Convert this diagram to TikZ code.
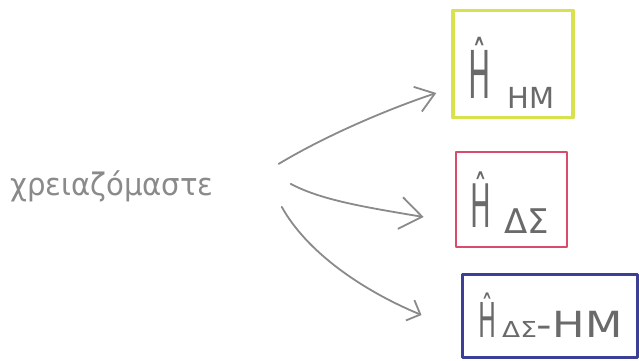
\documentclass[tikz,border=0pt]{standalone}
\usepackage{fontspec}
\setmainfont{DejaVu Sans}
\usetikzlibrary{arrows.meta,calc}

\definecolor{pencil}{HTML}{8A8A8A}
\definecolor{pencildark}{HTML}{6A6A6A}
\definecolor{hlyellow}{HTML}{D8E24E}
\definecolor{hlpink}{HTML}{D94A6C}
\definecolor{hlblue}{HTML}{3C3F96}

\tikzset{
  frame/.style={draw, inner sep=0pt, line join=round},
  word/.style={text=pencil, inner sep=0pt, anchor=base west},
  hlab/.style={text=pencildark, inner sep=0pt, anchor=base west},
  sketch/.style={draw=pencil, line width=1.8pt, line cap=round, line join=round},
}

\begin{document}
\begin{tikzpicture}[x=1pt,y=-1pt]
  \useasboundingbox (0,0) rectangle (639,360);
  \fill[white] (0,0) rectangle (639,360);

  % the word on the left
  \node[word] (w) at (10,195) {\scalebox{0.94}[1]{\fontsize{31}{31}\selectfont χρειαζόμαστε}};

  % coloured frames
  \node[frame, draw=hlyellow, line width=3.4pt, minimum width=120pt, minimum height=107pt] (hm) at (513,64) {};
  \node[frame, draw=hlpink, line width=2.6pt, minimum width=111pt, minimum height=95pt] (ds) at (511.5,199.5) {};
  \node[frame, draw=hlblue, line width=3pt, minimum width=175pt, minimum height=83pt] (dshm) at (549.5,315.5) {};

  % labels inside the frames
  \node[hlab] (lhm) at (468,98) {\fontsize{66}{66}\selectfont\scalebox{0.45}[1]{Ĥ}};
  \node[hlab] (shm) at (507,108) {\fontsize{29}{29}\selectfont HM};

  \node[hlab] (lds) at (470,227) {\fontsize{60}{60}\selectfont\scalebox{0.46}[1]{Ĥ}};
  \node[hlab] (sds) at (504,233) {\fontsize{34}{34}\selectfont ΔΣ};

  \node[hlab] (ldshm) at (478,337) {\fontsize{48}{48}\selectfont\scalebox{0.5}[1]{Ĥ}};
  \node[hlab] (sdshm) at (502,337) {\scalebox{1.2}[1]{\fontsize{22}{22}\selectfont ΔΣ\fontsize{36}{36}\selectfont -HM}};

  % arrow ends
  \coordinate (s1) at ($(w.east)+(65,-22)$);
  \coordinate (s2) at ($(w.east)+(77,-2)$);
  \coordinate (s3) at ($(w.east)+(68,21)$);
  \coordinate (t1) at ($(hm.west)+(-15,29)$);
  \coordinate (t2) at ($(ds.west)+(-31,17.5)$);
  \coordinate (t3) at ($(dshm.west)+(-39,-0.5)$);

  \draw[sketch, -{Straight Barb[length=18pt,width=26pt,line width=1.8pt]}]
    (s1) .. controls ($(s1)+(50,-30)$) and ($(t1)+(-45,15)$) .. (t1);
  \draw[sketch, -{Straight Barb[length=22pt,width=32pt,line width=1.8pt]}]
    (s2) .. controls ($(s2)+(30,16)$) and ($(t2)+(-60,-10)$) .. (t2);
  \draw[sketch, -{Straight Barb[length=11pt,width=22pt,line width=1.8pt]}]
    (s3) .. controls ($(s3)+(25,45)$) and ($(t3)+(-60,-25)$) .. (t3);
\end{tikzpicture}
\end{document}
